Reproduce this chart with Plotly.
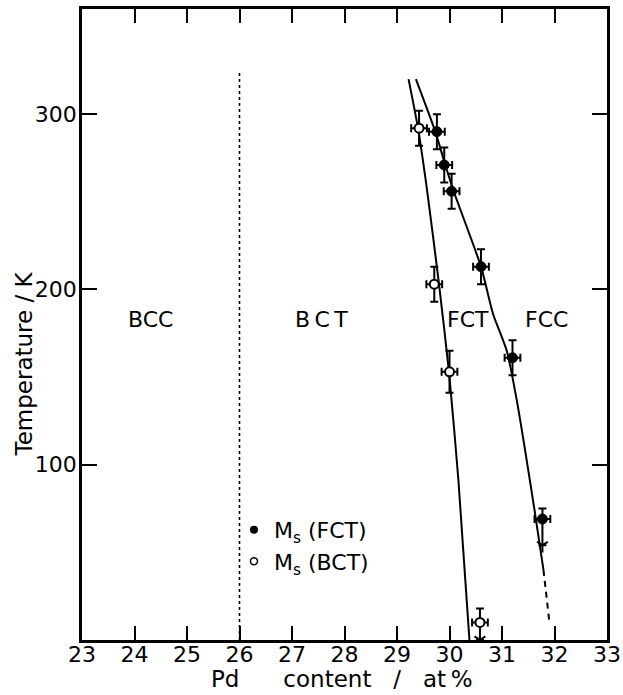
import plotly.graph_objects as go

# --- Ms measurements (Pd content in at%, temperature in K) ---
fct_x = [29.76, 29.90, 30.04, 30.60, 31.20, 31.77]
fct_T = [290, 271, 256, 213, 161, 69]
fct_xerr = [0.15, 0.15, 0.15, 0.15, 0.15, 0.15]
fct_Terr_plus = [10, 10, 10, 10, 10, 6]
fct_Terr_minus = [10, 10, 10, 10, 10, 15]

bct_x = [29.42, 29.71, 30.00, 30.58]
bct_T = [292, 203, 153, 10]
bct_xerr = [0.15, 0.15, 0.15, 0.15]
bct_Terr_plus = [10, 10, 12, 8]
bct_Terr_minus = [10, 10, 12, 10]

# --- phase boundaries ---
bct_fct_x = [29.22, 29.40, 29.58, 29.80, 29.99, 30.17, 30.38]
bct_fct_T = [320, 292, 255, 203, 153, 91, 0]

fct_fcc_x = [29.36, 29.73, 29.92, 30.08, 30.60, 30.83, 31.09, 31.28, 31.61, 31.79]
fct_fcc_T = [320, 290, 271, 256, 213, 186, 165, 137, 76, 40]
fct_fcc_ext_x = [31.79, 31.90]
fct_fcc_ext_T = [40, 11]

bcc_bct_x = [26, 26]
bcc_bct_T = [0, 324]

# --- phase labels ---
phase_names = ["BCC", "B\u2009C\u2009T", "FCT", "FCC"]
phase_x = [24.3, 27.57, 30.35, 31.85]
phase_T = [183, 183, 183, 183]

x_ticks = list(range(23, 34))
y_ticks = [100, 200, 300]

FONT = "DejaVu Sans"
INK = "black"

fig = go.Figure()

fig.add_trace(go.Scatter(x=bcc_bct_x, y=bcc_bct_T, mode="lines",
                         line=dict(color=INK, width=1.6, dash="dot"),
                         showlegend=False, hoverinfo="skip"))
fig.add_trace(go.Scatter(x=bct_fct_x, y=bct_fct_T, mode="lines",
                         line=dict(color=INK, width=2, shape="spline", smoothing=0.6),
                         showlegend=False, hoverinfo="skip"))
fig.add_trace(go.Scatter(x=fct_fcc_x, y=fct_fcc_T, mode="lines",
                         line=dict(color=INK, width=2, shape="spline", smoothing=0.6),
                         showlegend=False, hoverinfo="skip"))
fig.add_trace(go.Scatter(x=fct_fcc_ext_x, y=fct_fcc_ext_T, mode="lines",
                         line=dict(color=INK, width=2, dash="6px,5px"),
                         showlegend=False, hoverinfo="skip"))

err_style = dict(color=INK, thickness=2, width=4)

fig.add_trace(go.Scatter(
    x=fct_x, y=fct_T, mode="markers",
    marker=dict(symbol="circle", size=10, color=INK, line=dict(color=INK, width=1)),
    error_x=dict(type="data", array=fct_xerr, **err_style),
    error_y=dict(type="data", symmetric=False, array=fct_Terr_plus,
                 arrayminus=fct_Terr_minus, **err_style),
    showlegend=False))

fig.add_trace(go.Scatter(
    x=bct_x, y=bct_T, mode="markers",
    marker=dict(symbol="circle", size=9, color="white", line=dict(color=INK, width=2)),
    error_x=dict(type="data", array=bct_xerr, **err_style),
    error_y=dict(type="data", symmetric=False, array=bct_Terr_plus,
                 arrayminus=bct_Terr_minus, **err_style),
    showlegend=False))

# open arrowheads at the lower ends of the limit bars
tip_x = [fct_x[-1], bct_x[-1]]
tip_T = [fct_T[-1] - fct_Terr_minus[-1], bct_T[-1] - bct_Terr_minus[-1]]
fig.add_trace(go.Scatter(x=tip_x, y=tip_T, mode="markers",
                         marker=dict(symbol="y-down", size=9,
                                     line=dict(color=INK, width=2)),
                         showlegend=False, hoverinfo="skip"))

# legend entries
fig.add_trace(go.Scatter(x=[None], y=[None], mode="markers", name="M<sub>s</sub> (FCT)",
                         marker=dict(symbol="circle", size=8, color=INK)))
fig.add_trace(go.Scatter(x=[None], y=[None], mode="markers", name="M<sub>s</sub> (BCT)",
                         marker=dict(symbol="circle", size=7, color="white",
                                     line=dict(color=INK, width=1.5))))

annotations = []
for name, px, pt in zip(phase_names, phase_x, phase_T):
    annotations.append(dict(x=px, y=pt, xref="x", yref="y", text=name, showarrow=False,
                            font=dict(family=FONT, size=22, color=INK)))

nb = "\u00a0"
annotations.append(dict(x=0.495, y=-0.0618, xref="paper", yref="paper",
                        text="Pd" + nb * 6 + "content" + nb * 3 + "/" + nb * 3 + "at\u2009%",
                        showarrow=False, xanchor="center", yanchor="middle",
                        font=dict(family=FONT, size=23, color=INK)))
annotations.append(dict(x=-0.110, y=0.437, xref="paper", yref="paper",
                        text="Temperature" + nb + "/" + nb + "K", textangle=-90,
                        showarrow=False, xanchor="center", yanchor="middle",
                        font=dict(family=FONT, size=23, color=INK)))

axis_common = dict(showline=True, linecolor=INK, linewidth=2.5, mirror="ticks",
                   ticks="inside", tickwidth=2, tickcolor=INK, showgrid=False,
                   zeroline=False, automargin=False,
                   tickfont=dict(family=FONT, size=22, color=INK))

fig.update_layout(
    width=623, height=695,
    margin=dict(l=82, r=16, t=9, b=55),
    paper_bgcolor="white", plot_bgcolor="white",
    font=dict(family=FONT, size=22, color=INK),
    xaxis=dict(range=[23, 33], tickvals=x_ticks, ticklen=14, ticklabelstandoff=-7,
               **axis_common),
    yaxis=dict(range=[0, 360], tickvals=y_ticks, ticklen=15, ticklabelstandoff=-2,
               **axis_common),
    legend=dict(x=0.2895, y=0.2077, xanchor="left", yanchor="top",
                bgcolor="rgba(0,0,0,0)", font=dict(family=FONT, size=22, color=INK),
                itemsizing="trace", tracegroupgap=0),
    annotations=annotations,
)

fig.write_html("out.html")
